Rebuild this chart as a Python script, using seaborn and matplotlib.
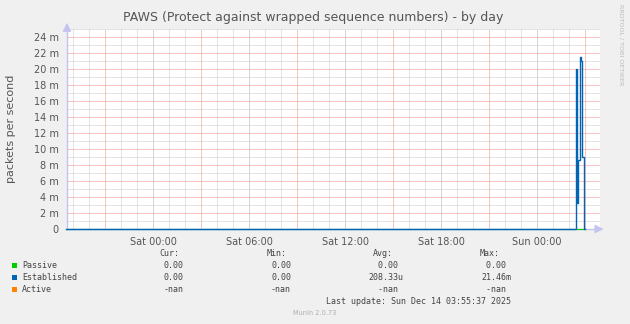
import numpy as np
import pandas as pd
import matplotlib
matplotlib.use("Agg")
import matplotlib.pyplot as plt
import matplotlib.dates as mdates
from matplotlib.ticker import FixedLocator, FuncFormatter
import seaborn as sns

# ---------------- data ----------------
established_times = ["2025-12-12 18:35", "2025-12-14 02:20", "2025-12-14 02:25",
                     "2025-12-14 02:30", "2025-12-14 02:35", "2025-12-14 02:40",
                     "2025-12-14 02:45", "2025-12-14 02:50", "2025-12-14 02:55",
                     "2025-12-14 03:00"]
established_values = [0.0, 0.0, 0.0200, 0.0033, 0.0086, 0.02146, 0.0210, 0.0090, 0.0, 0.0]
passive_times = ["2025-12-12 18:35", "2025-12-14 03:00"]
passive_values = [0.0, 0.0]

series_names = ["Passive", "Established", "Active"]
series_colors = ["#00CC00", "#0066B3", "#FF8000"]
cur_vals = ["0.00", "0.00", "-nan"]
min_vals = ["0.00", "0.00", "-nan"]
avg_vals = ["0.00 ", "208.33u", "-nan "]
max_vals = ["0.00 ", "21.46m", "-nan "]

title = "PAWS (Protect against wrapped sequence numbers) - by day"
ylabel = "packets per second"
last_update = "Last update: Sun Dec 14 03:55:37 2025"
x_start = pd.Timestamp("2025-12-12 18:37:30")
x_end = pd.Timestamp("2025-12-14 03:56:15")
label_hours = [0, 6, 12, 18]
red_hours = [3, 9, 15, 21]
y_major_m = list(range(0, 26, 2))      # labelled values, in milli-units
y_minor_m = list(range(1, 26, 2))

# ---------------- figure ----------------
W, H = 630, 324
fig = plt.figure(figsize=(W / 100, H / 100), dpi=100, facecolor="#F0F0F0")
ax = fig.add_axes([67 / W, 95 / H, 533 / W, 200 / H])
ax.set_facecolor("white")

def fx(x):
    return x / W

def fy(y):
    return 1 - y / H

ax.set_xlim(x_start, x_end)
ax.set_ylim(0, 0.025)

hours = pd.date_range("2025-12-12 19:00", "2025-12-14 03:00", freq="1h")
grey_hours = [h for h in hours if h.hour not in red_hours]
red_times = [h for h in hours if h.hour in red_hours]
label_times = [h for h in hours if h.hour in label_hours]

ax.xaxis.set_major_locator(FixedLocator(mdates.date2num(label_times)))
ax.xaxis.set_major_formatter(FuncFormatter(lambda v, p: mdates.num2date(v).strftime("%a %H:%M")))
ax.xaxis.set_minor_locator(FixedLocator(mdates.date2num(grey_hours)))
ax.xaxis.remove_overlapping_locs = False
ax.yaxis.set_major_locator(FixedLocator([m / 1000 for m in y_major_m]))
ax.yaxis.set_major_formatter(FuncFormatter(lambda v, p: "0" if abs(v) < 1e-9 else f"{v*1000:.0f} m"))
ax.yaxis.set_minor_locator(FixedLocator([m / 1000 for m in y_minor_m]))

grey = "#c8c8c8"
red = "#f28c8c"
gkw = dict(lw=0.72, linestyle=(0, (1, 1)))
ax.grid(which="both", axis="x", color=grey, **gkw)
ax.grid(which="minor", axis="y", color=grey, **gkw)
ax.grid(which="major", axis="y", visible=False)
ax.set_axisbelow(True)
for m in y_major_m[1:]:
    ax.axhline(m / 1000, color=red, zorder=1, **gkw)
for t in red_times:
    ax.axvline(t, color=red, zorder=1, **gkw)

ax.tick_params(axis="both", which="both", length=0, labelsize=7, labelcolor="#555555")
ax.tick_params(axis="x", which="both", pad=6)
ax.tick_params(axis="y", which="both", pad=6)

for s in ["top", "right"]:
    ax.spines[s].set_visible(False)
for s in ["left", "bottom"]:
    ax.spines[s].set_color("#c4c4f0")
    ax.spines[s].set_linewidth(1.0)

# arrows
ax.annotate("", xy=(0, 1.045), xytext=(0, 0.99), xycoords="axes fraction",
            arrowprops=dict(arrowstyle="-|>,head_width=0.25,head_length=0.5", color="#c4c4f0", lw=1))
ax.annotate("", xy=(1.012, 0), xytext=(0.99, 0), xycoords="axes fraction",
            arrowprops=dict(arrowstyle="-|>,head_width=0.25,head_length=0.5", color="#c4c4f0", lw=1))

# data lines
df_p = pd.DataFrame({"t": pd.to_datetime(passive_times), "v": passive_values})
df_e = pd.DataFrame({"t": pd.to_datetime(established_times), "v": established_values})
sns.lineplot(data=df_p, x="t", y="v", color=series_colors[0], lw=0.8,
             drawstyle="steps-post", ax=ax, zorder=3, clip_on=False)
sns.lineplot(data=df_e, x="t", y="v", color=series_colors[1], lw=1.0,
             drawstyle="steps-post", ax=ax, zorder=4, clip_on=False)
ax.set_xlabel("")
ax.set_ylabel("")

# texts
txt = "#555555"
fig.text(fx(313), fy(18), title, ha="center", va="center", fontsize=9, color=txt)
fig.text(fx(11), fy(129), ylabel, ha="center", va="center", rotation=90, fontsize=8, color=txt)
fig.text(fx(621), fy(4), "RRDTOOL / TOBI OETIKER", ha="center", va="top", rotation=270,
         fontsize=4.6, color="#bbbbbb")

mono = "DejaVu Sans Mono"
fs = 6
ltxt = "#444444"
hdr_y = 253
fig.text(fx(179), fy(hdr_y), "Cur:", ha="right", va="center", family=mono, fontsize=fs, color=ltxt)
fig.text(fx(287), fy(hdr_y), "Min:", ha="right", va="center", family=mono, fontsize=fs, color=ltxt)
fig.text(fx(393), fy(hdr_y), "Avg:", ha="right", va="center", family=mono, fontsize=fs, color=ltxt)
fig.text(fx(500), fy(hdr_y), "Max:", ha="right", va="center", family=mono, fontsize=fs, color=ltxt)

row_y = [265, 277, 289]
for i, name in enumerate(series_names):
    y = row_y[i]
    fig.patches.append(plt.Rectangle((fx(12), fy(y) - 2.5 / H), 5 / W, 5 / H,
                                     transform=fig.transFigure, facecolor=series_colors[i],
                                     edgecolor="none", figure=fig))
    fig.text(fx(22), fy(y), name, ha="left", va="center", family=mono, fontsize=fs, color=ltxt)
    fig.text(fx(184), fy(y), cur_vals[i], ha="right", va="center", family=mono, fontsize=fs, color=ltxt)
    fig.text(fx(291), fy(y), min_vals[i], ha="right", va="center", family=mono, fontsize=fs, color=ltxt)
    fig.text(fx(403), fy(y), avg_vals[i], ha="right", va="center", family=mono, fontsize=fs, color=ltxt)
    fig.text(fx(511), fy(y), max_vals[i], ha="right", va="center", family=mono, fontsize=fs, color=ltxt)

fig.text(fx(511), fy(301), last_update, ha="right", va="center", family=mono, fontsize=fs, color=ltxt)
fig.text(fx(315), fy(313), "Munin 2.0.73", ha="center", va="center", fontsize=4.8, color="#b0b0b0")

fig.savefig("out.png", dpi=100, facecolor=fig.get_facecolor())
